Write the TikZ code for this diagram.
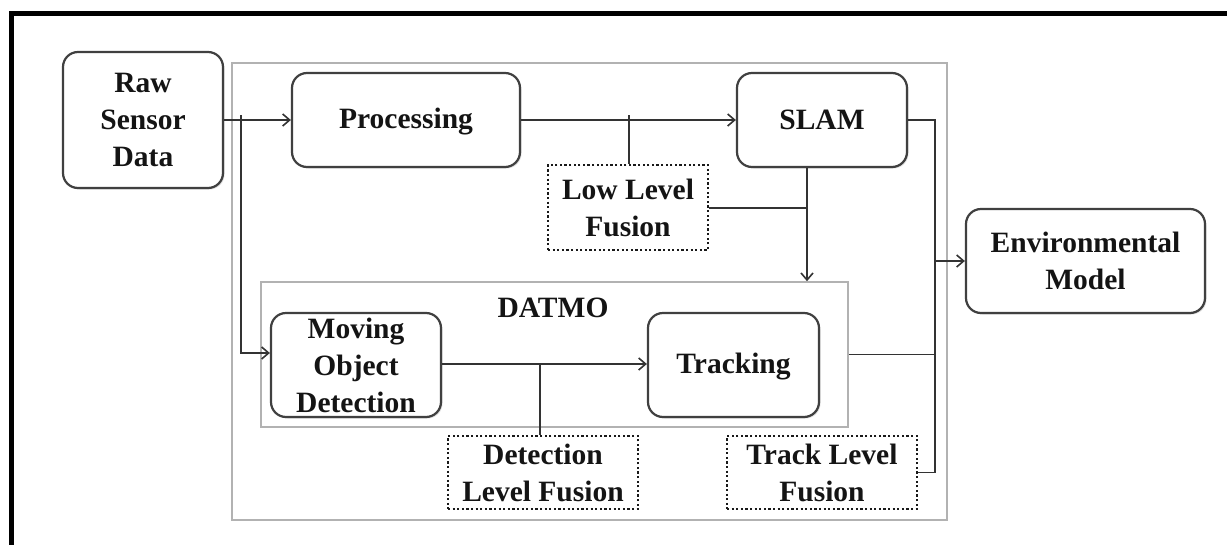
\documentclass[tikz,border=0pt]{standalone}
\usepackage{fontspec}
\setmainfont{Liberation Serif}
\usetikzlibrary{arrows.meta,calc,shadows}
\begin{document}
\begin{tikzpicture}[x=1pt,y=-1pt,
  txt/.style={font=\bfseries\fontsize{29.5}{37}\selectfont, align=center, text=black!92, inner sep=0pt},
  rbox/.style={draw=black!75, line width=2.2pt, rounded corners=15pt, fill=white, inner sep=0pt,
    drop shadow={shadow xshift=1.5pt, shadow yshift=-1.5pt, opacity=0.25}},
  dbox/.style={draw=black!90, line width=2.6pt, dash pattern=on 2.2pt off 2.4pt, inner sep=0pt},
  gbox/.style={draw=black!30, line width=1.6pt, inner sep=0pt},
  conn/.style={draw=black!80, line width=1.8pt},
  arr/.style={conn, -{Straight Barb[length=7pt,width=12pt,line width=1.6pt]}}
]
\useasboundingbox (0,0) rectangle (1227,544);
\fill[white] (0,0) rectangle (1227,544);
% outer frame (only top and left visible)
\draw[line width=5pt, black] (11.5,560) -- (11.5,13) -- (1240,13);

% containers
\node[gbox, minimum width=715pt, minimum height=457pt] (main) at (589.5,291.5) {};
\node[gbox, minimum width=587pt, minimum height=145pt] (datmo) at (554.5,354.5) {};
\node[txt] (datmolbl) at (553,308) {DATMO};

% boxes
\node[rbox, minimum width=160pt, minimum height=136pt, label={[txt]center:Raw\\Sensor\\Data}] (raw) at (143,120) {};
\node[rbox, minimum width=228pt, minimum height=94pt, label={[txt,yshift=-2pt]center:Processing}] (proc) at (406,120) {};
\node[rbox, minimum width=170pt, minimum height=94pt, label={[txt]center:SLAM}] (slam) at (822,120) {};
\node[rbox, minimum width=239pt, minimum height=104pt, label={[txt]center:Environmental\\Model}] (env) at (1085.5,261) {};
\node[rbox, minimum width=170pt, minimum height=104pt, label={[txt]center:Moving\\Object\\Detection}] (mod) at (356,365) {};
\node[rbox, minimum width=171pt, minimum height=104pt, label={[txt,yshift=-2pt]center:Tracking}] (trk) at (733.5,365) {};

% fusion boxes
\node[dbox, minimum width=160pt, minimum height=85pt, label={[txt]center:Low Level\\Fusion}] (llf) at (628,207.5) {};
\node[dbox, minimum width=190pt, minimum height=73pt, label={[txt]center:Detection\\Level Fusion}] (dlf) at (543,472.5) {};
\node[dbox, minimum width=190pt, minimum height=73pt, label={[txt]center:Track Level\\Fusion}] (tlf) at (822,472.5) {};

% coordinates
\coordinate (t1) at (241,115);
\coordinate (t2) at (629,115);
\coordinate (t3) at (540,364);
\coordinate (j1) at (807,208);
\coordinate (bus) at (935,120);

% connectors
\draw[arr] (raw.east) -- (proc.west);
\draw[arr] (t1) |- ($(mod.west)+(0,-12)$);
\draw[arr] (proc.east) -- (slam.west);
\draw[conn] (t2) -- (llf.north -| t2);
\draw[conn] (llf.east |- j1) -- (j1);
\draw[arr] (slam.south -| j1) -- (datmo.north -| j1);
\draw[conn] (slam.east) -- (bus) -- (bus |- tlf.east) -- (tlf.east);
\draw[conn] (datmo.east) -- (bus |- datmo.east);
\draw[arr] (bus |- env.west) -- (env.west);
\draw[arr] (mod.east |- t3) -- (trk.west |- t3);
\draw[conn] (t3) -- (dlf.north -| t3);
\end{tikzpicture}
\end{document}
